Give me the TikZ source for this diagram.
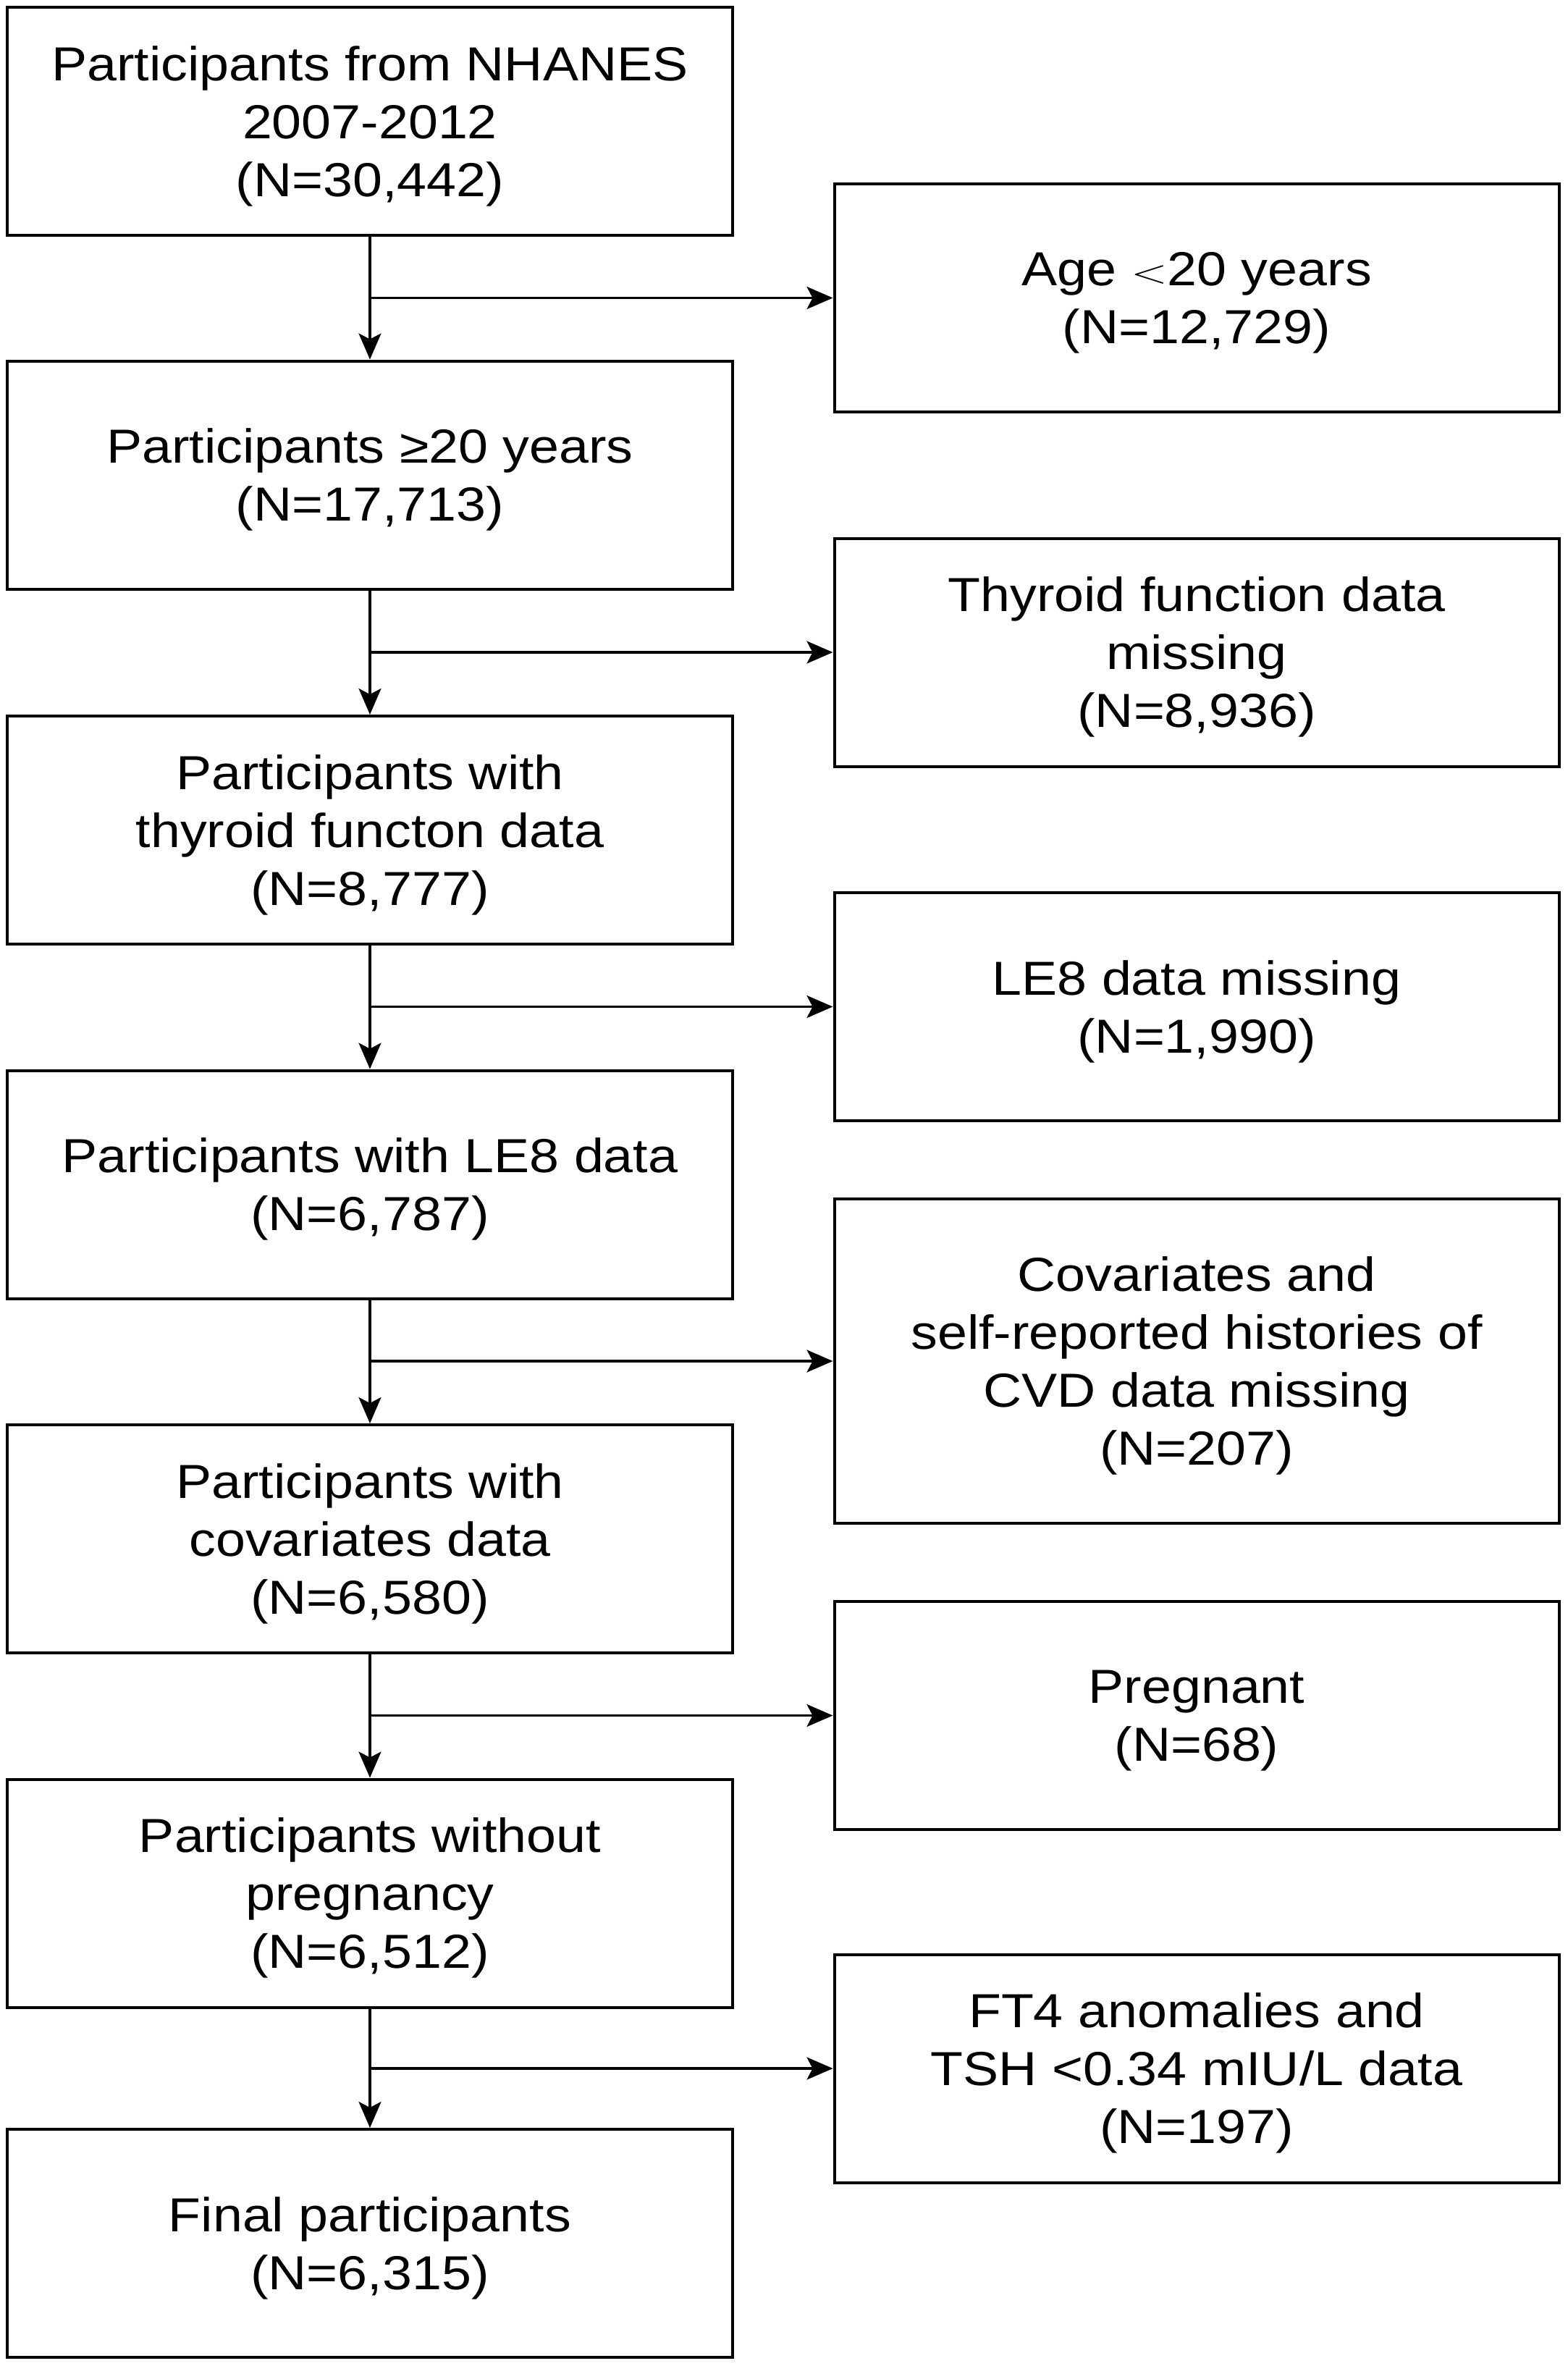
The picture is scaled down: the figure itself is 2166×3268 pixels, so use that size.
\documentclass[tikz,border=0pt]{standalone}
\usepackage{fontspec}
\setmainfont{Liberation Sans}[FakeStretch=1.115]
\usetikzlibrary{arrows.meta}
\newcommand{\thinless}{{\fontsize{10pt}{12pt}\selectfont\raisebox{4bp}{\scalebox{6.5}[4.4]{$<$}}}}
\begin{document}
\begin{tikzpicture}[x=1bp,y=-1bp,
  box/.style={draw,line width=4bp,minimum width=1001bp,minimum height=315bp,
    align=center,inner sep=0pt,text depth=0pt,font=\fontsize{66bp}{80bp}\selectfont},
  tallbox/.style={box,minimum height=448bp},
  arr/.style={line width=3.3bp,-{Stealth[length=36bp,width=31bp,inset=8bp]}}]
\useasboundingbox (0,0) rectangle (2166,3268);
\node[box] (L1) at (511,167.5) {Participants from NHANES\\2007-2012\\(N=30,442)};
\node[box] (L2) at (511,656) {Participants ≥20 years\\(N=17,713)};
\node[box] (L3) at (511,1146.5) {Participants with\\thyroid functon data\\(N=8,777)};
\node[box] (L4) at (511,1636) {Participants with LE8 data\\(N=6,787)};
\node[box] (L5) at (511,2125.5) {Participants with\\covariates data\\(N=6,580)};
\node[box] (L6) at (511,2615) {Participants without\\pregnancy\\(N=6,512)};
\node[box] (L7) at (511,3098.5) {Final participants\\(N=6,315)};
\node[box] (R1) at (1653,411.5) {Age \thinless20 years\\(N=12,729)};
\node[box] (R2) at (1653,901) {Thyroid function data\\missing\\(N=8,936)};
\node[box] (R3) at (1653,1390.5) {LE8 data missing\\(N=1,990)};
\node[tallbox] (R4) at (1653,1880) {Covariates and\\self-reported histories of\\CVD data missing\\(N=207)};
\node[box] (R5) at (1653,2369.5) {Pregnant\\(N=68)};
\node[box] (R6) at (1653,2857) {FT4 anomalies and\\TSH <0.34 mIU/L data\\(N=197)};
\foreach \a/\b/\r in {L1/L2/R1,L2/L3/R2,L3/L4/R3,L4/L5/R4,L5/L6/R5,L6/L7/R6}{
  \draw[arr] (\a.south) -- (\b.north);
  \draw[arr] (\a.south |- \r.west) -- (\r.west);
}
\end{tikzpicture}
\end{document}
